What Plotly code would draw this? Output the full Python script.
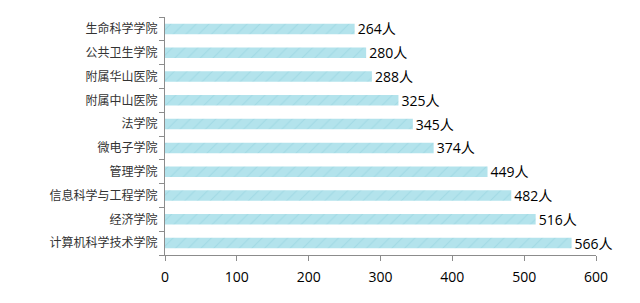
import plotly.graph_objects as go

categories = ["计算机科学技术学院", "经济学院", "信息科学与工程学院", "管理学院", "微电子学院",
              "法学院", "附属中山医院", "附属华山医院", "公共卫生学院", "生命科学学院"]
values = [566, 516, 482, 449, 374, 345, 325, 288, 280, 264]
labels = [f"{v}人" for v in values]
x_ticks = [0, 100, 200, 300, 400, 500, 600]

fig = go.Figure(go.Bar(
    y=categories, x=values, orientation="h",
    width=0.44,
    marker=dict(color="#b3e3ec", line=dict(width=0),
                pattern=dict(shape="/", fgcolor="#8fcfdc", size=9, solidity=0.12)),
    text=labels, textposition="outside", cliponaxis=False, constraintext="none",
    textfont=dict(family="Open Sans, Noto Sans CJK SC", size=14, color="#000000"),
))

fig.update_layout(
    width=640, height=303,
    margin=dict(l=165, r=44, t=17, b=48),
    paper_bgcolor="white", plot_bgcolor="white",
    showlegend=False,
)
fig.update_xaxes(
    range=[0, 600], tickvals=x_ticks, showgrid=False, zeroline=False,
    showline=True, linecolor="#8c8c8c", linewidth=1,
    ticks="outside", ticklen=5, tickcolor="#8c8c8c",
    tickfont=dict(family="Open Sans", size=14, color="#000000"),
    ticklabelstandoff=4,
)
fig.update_yaxes(
    showgrid=False, showline=True, linecolor="#8c8c8c", linewidth=1,
    ticks="outside", ticklen=5, tickcolor="#8c8c8c", tickson="boundaries",
    tickfont=dict(family="Noto Sans CJK SC", size=12, color="#333333"),
    ticklabelstandoff=4,
)

fig.write_html("out.html")
